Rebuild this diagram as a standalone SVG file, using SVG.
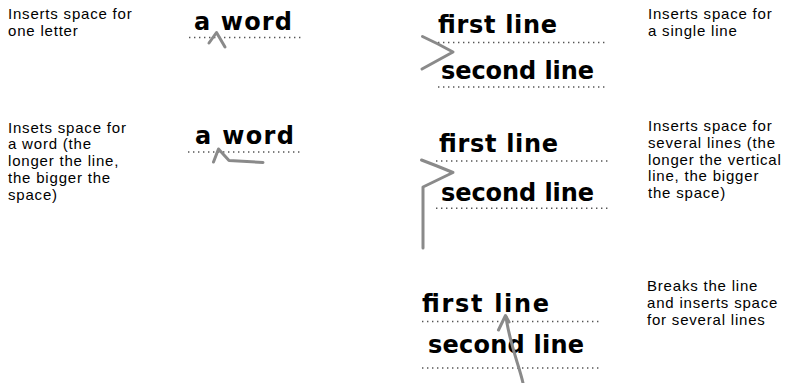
<svg xmlns="http://www.w3.org/2000/svg" width="789" height="383" viewBox="0 0 789 383">
<style>
.lbl{font-family:"Liberation Sans",Arial,sans-serif;font-size:15px;letter-spacing:0.8px;fill:#000}
.hw{font-family:"DejaVu Sans",Verdana,sans-serif;font-weight:bold;font-size:24px;fill:#000}
.dot{stroke:#555;stroke-width:1.4;stroke-dasharray:1.4 3.6;fill:none}
.pen{stroke:#8a8a8a;stroke-width:3;fill:none;stroke-linecap:round;stroke-linejoin:round}
</style>
<rect width="789" height="383" fill="#fff"/>

<g id="desc-one-letter">
<text class="lbl" x="8" y="19">Inserts space for</text>
<text class="lbl" x="8" y="36">one letter</text>
</g>
<g id="example-one-letter">
<text class="hw" x="194" y="30" textLength="98" lengthAdjust="spacing">a word</text>
<line class="dot" x1="189" y1="37.5" x2="301" y2="37.5"/>
</g>

<g id="desc-single-line">
<text class="lbl" x="648" y="19">Inserts space for</text>
<text class="lbl" x="648" y="36">a single line</text>
</g>
<g id="example-single-line">
<text class="hw" x="438" y="33" textLength="119" lengthAdjust="spacing">first line</text>
<line class="dot" x1="438" y1="42.5" x2="608" y2="42.5"/>
<text class="hw" x="441" y="79" textLength="153" lengthAdjust="spacing">second line</text>
<line class="dot" x1="438" y1="87" x2="608" y2="87"/>
</g>

<g id="desc-word">
<text class="lbl" x="8" y="132.5">Insets space for</text>
<text class="lbl" x="8" y="149.3">a word (the</text>
<text class="lbl" x="8" y="166.1">longer the line,</text>
<text class="lbl" x="8" y="182.9">the bigger the</text>
<text class="lbl" x="8" y="199.7">space)</text>
</g>
<g id="example-word">
<text class="hw" x="195" y="144" textLength="99" lengthAdjust="spacing">a word</text>
<line class="dot" x1="188" y1="152" x2="303" y2="152"/>
</g>

<g id="desc-several-lines">
<text class="lbl" x="648" y="131">Inserts space for</text>
<text class="lbl" x="648" y="147.8">several lines (the</text>
<text class="lbl" x="648" y="164.6">longer the vertical</text>
<text class="lbl" x="648" y="181.4">line, the bigger</text>
<text class="lbl" x="648" y="198.2">the space)</text>
</g>
<g id="example-several-lines">
<text class="hw" x="439" y="151.5" textLength="119" lengthAdjust="spacing">first line</text>
<line class="dot" x1="436" y1="161" x2="610" y2="161"/>
<text class="hw" x="441" y="201" textLength="153" lengthAdjust="spacing">second line</text>
<line class="dot" x1="436" y1="208.3" x2="610" y2="208.3"/>
</g>

<g id="desc-break">
<text class="lbl" x="647" y="291">Breaks the line</text>
<text class="lbl" x="647" y="307.8">and inserts space</text>
<text class="lbl" x="647" y="324.6">for several lines</text>
</g>
<g id="example-break">
<text class="hw" x="422" y="311.5" textLength="127" lengthAdjust="spacing">first line</text>
<line class="dot" x1="422" y1="321.5" x2="600" y2="321.5"/>
<text class="hw" x="428" y="353" textLength="156" lengthAdjust="spacing">second line</text>
<line class="dot" x1="422" y1="368" x2="600" y2="368"/>
</g>

<g id="connectors">
<polyline class="pen" points="209,43 216.5,32.5 225,47"/>
<polyline class="pen" points="213.5,162 218.5,149 229,160.5 263,162.5"/>
<polyline class="pen" points="422.5,36.5 438,44 453,52 422,69"/>
<polyline class="pen" points="421.5,160 437,166 453,172.5 423,187 423,248"/>
<path class="pen" d="M523,383 C519,365 510,345 506,317"/>
<polyline class="pen" points="498.5,330 505.5,315.5 509,322"/>
</g>
</svg>
